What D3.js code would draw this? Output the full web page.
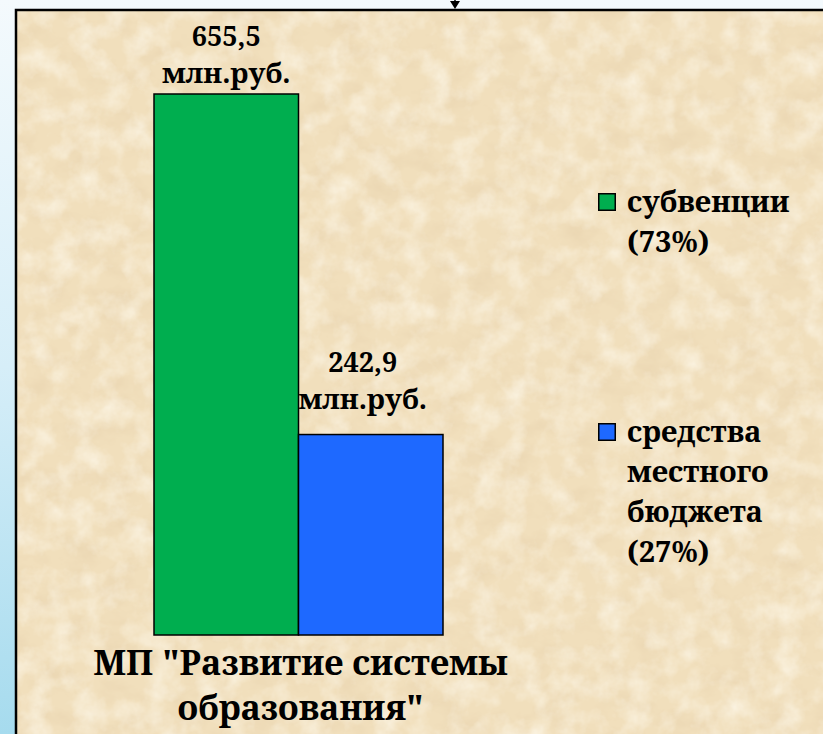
<!DOCTYPE html>
<html>
<head>
<meta charset="utf-8">
<script src="https://cdn.jsdelivr.net/npm/d3@7"></script>
</head>
<body style="margin:0">
<script>
// chart data
const categories = ["МП \"Развитие системы образования\""];
const categoryLines = ["МП \"Развитие системы", "образования\""];
const seriesNames = ["субвенции (73%)", "средства местного бюджета (27%)"];
const legendLines = [["субвенции", "(73%)"], ["средства", "местного", "бюджета", "(27%)"]];
const seriesValues = [655.5, 242.9];
const valueLabels = ["655,5", "242,9"];
const unitLabel = "млн.руб.";
const seriesColors = ["#00ae4f", "#1e69ff"];

const width = 823, height = 734;
const fam = "Noto Serif";

const svg = d3.select("body").append("svg")
    .attr("width", width)
    .attr("height", height)
    .style("display", "block");

const defs = svg.append("defs");

const bgGrad = defs.append("linearGradient")
    .attr("id", "bgGrad")
    .attr("x1", 0).attr("y1", 0).attr("x2", 0).attr("y2", 1);
bgGrad.append("stop").attr("offset", "0%").attr("stop-color", "#f4fafd");
bgGrad.append("stop").attr("offset", "50%").attr("stop-color", "#d6eef8");
bgGrad.append("stop").attr("offset", "100%").attr("stop-color", "#a6dbee");

// parchment mottling
const dark = defs.append("filter").attr("id", "mottleDark")
    .attr("x", 0).attr("y", 0).attr("width", "100%").attr("height", "100%");
dark.append("feTurbulence")
    .attr("type", "fractalNoise")
    .attr("baseFrequency", "0.03 0.045")
    .attr("numOctaves", 5)
    .attr("seed", 7);
dark.append("feColorMatrix")
    .attr("type", "matrix")
    .attr("values", "0 0 0 0 0.78  0 0 0 0 0.62  0 0 0 0 0.40  1.0 0 0 0 -0.44");

const light = defs.append("filter").attr("id", "mottleLight")
    .attr("x", 0).attr("y", 0).attr("width", "100%").attr("height", "100%");
light.append("feTurbulence")
    .attr("type", "fractalNoise")
    .attr("baseFrequency", 0.04)
    .attr("numOctaves", 4)
    .attr("seed", 2);
light.append("feColorMatrix")
    .attr("type", "matrix")
    .attr("values", "0 0 0 0 1  0 0 0 0 0.97  0 0 0 0 0.88  -1.2 0 0 0 0.72");

svg.append("rect")
    .attr("width", width)
    .attr("height", height)
    .attr("fill", "url(#bgGrad)");

const box = {left: 16, top: 10};

svg.append("rect")
    .attr("x", box.left).attr("y", box.top)
    .attr("width", width - box.left + 10)
    .attr("height", height - box.top + 10)
    .attr("fill", "#f1dfbc");
svg.append("rect")
    .attr("x", box.left).attr("y", box.top)
    .attr("width", width - box.left)
    .attr("height", height - box.top)
    .attr("filter", "url(#mottleDark)");
svg.append("rect")
    .attr("x", box.left).attr("y", box.top)
    .attr("width", width - box.left)
    .attr("height", height - box.top)
    .attr("filter", "url(#mottleLight)");
svg.append("rect")
    .attr("x", box.left).attr("y", box.top)
    .attr("width", width - box.left + 10)
    .attr("height", height - box.top + 10)
    .attr("fill", "none")
    .attr("stroke", "#000")
    .attr("stroke-width", 2.5);

// arrow entering the box from above
svg.append("line")
    .attr("x1", 455).attr("x2", 455)
    .attr("y1", 0).attr("y2", 6)
    .attr("stroke", "#000").attr("stroke-width", 1.5);
svg.append("path")
    .attr("d", "M450,1 L460,1 L455,9 Z")
    .attr("fill", "#000");

// scales
const plot = {left: 154, right: 443, top: 94, bottom: 635};

const x0 = d3.scaleBand()
    .domain(categories)
    .range([plot.left, plot.right]);

const x1 = d3.scaleBand()
    .domain(seriesNames)
    .range([0, x0.bandwidth()]);

const y = d3.scaleLinear()
    .domain([0, d3.max(seriesValues)])
    .range([plot.bottom, plot.top]);

const g = svg.append("g")
    .attr("transform", `translate(${x0(categories[0])},0)`);

g.selectAll("rect.bar")
    .data(seriesValues)
    .join("rect")
    .attr("class", "bar")
    .attr("x", (d, i) => x1(seriesNames[i]))
    .attr("y", d => y(d))
    .attr("width", x1.bandwidth())
    .attr("height", d => y(0) - y(d))
    .attr("fill", (d, i) => seriesColors[i])
    .attr("stroke", "#000")
    .attr("stroke-width", 1.5);

// value labels (Excel put the second one a little higher and left)
const labelShift = [{dx: 0, dy: 11}, {dx: -8, dy: 26}];
const labelX = (d, i) => x1(seriesNames[i]) + x1.bandwidth() / 2 + labelShift[i].dx;

g.selectAll("text.val")
    .data(seriesValues)
    .join("text")
    .attr("class", "val")
    .attr("text-anchor", "middle")
    .attr("font-size", 27)
    .attr("font-weight", "bold")
    .style("font-family", () => `"${fam}"`)
    .attr("x", labelX)
    .attr("y", (d, i) => y(d) - labelShift[i].dy - 37)
    .text((d, i) => valueLabels[i]);

g.selectAll("text.unit")
    .data(seriesValues)
    .join("text")
    .attr("class", "unit")
    .attr("text-anchor", "middle")
    .attr("font-size", 28)
    .attr("font-weight", "bold")
    .style("font-family", () => `"${fam}"`)
    .attr("x", labelX)
    .attr("y", (d, i) => y(d) - labelShift[i].dy)
    .text(unitLabel);

// category label
svg.selectAll("text.cat")
    .data(categoryLines)
    .join("text")
    .attr("class", "cat")
    .attr("text-anchor", "middle")
    .attr("font-size", 34)
    .attr("font-weight", "bold")
    .style("font-family", () => `"${fam}"`)
    .attr("x", x0(categories[0]) + x0.bandwidth() / 2 + 2)
    .attr("y", (d, i) => 675 + i * 45)
    .text(d => d);

// legend
const legendTop = [193, 423];

const leg = svg.append("g")
    .selectAll("g")
    .data(seriesNames)
    .join("g")
    .attr("transform", (d, i) => `translate(598,${legendTop[i]})`);

leg.append("rect")
    .attr("x", 0.75).attr("y", 0.75)
    .attr("width", 16.5).attr("height", 16.5)
    .attr("fill", (d, i) => seriesColors[i])
    .attr("stroke", "#000")
    .attr("stroke-width", 1.5);

leg.selectAll("text")
    .data((d, i) => legendLines[i])
    .join("text")
    .attr("font-size", 29)
    .attr("font-weight", "bold")
    .style("font-family", () => `"${fam}"`)
    .attr("x", 29)
    .attr("y", (d, j) => 19 + j * 40)
    .text(d => d);
</script>
</body>
</html>
